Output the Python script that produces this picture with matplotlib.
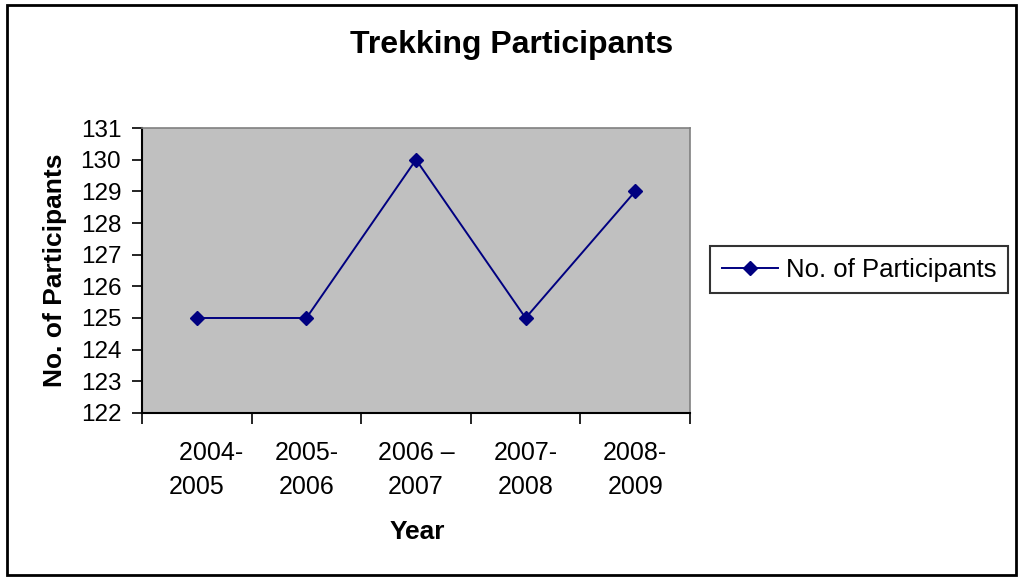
import matplotlib
matplotlib.use("Agg")
import matplotlib.pyplot as plt
from matplotlib.patches import Rectangle

years = ["    2004-\n2005", "2005-\n2006", "2006 \u2013\n2007", "2007-\n2008", "2008-\n2009"]
participants = [125, 125, 130, 125, 129]

plt.rcParams['font.family'] = ['Liberation Sans', 'DejaVu Sans']

fig = plt.figure(figsize=(10.18, 5.78), dpi=100)
ax = fig.add_axes([0.1395, 0.2855, 0.5383, 0.493])
ax.set_facecolor('#c0c0c0')

x = list(range(len(years)))
ax.plot(x, participants, color='#000080', marker='D', markersize=7.5,
        linewidth=1.4, label='No. of Participants')

ax.set_xlim(-0.5, len(years) - 0.5)
ax.set_ylim(122, 131)
ax.set_yticks(range(122, 132))
ax.tick_params(axis='y', labelsize=17.5, length=7, width=1.2, direction='out', pad=8)

# category labels sit between the boundary ticks
ax.set_xticks([i - 0.5 for i in range(len(years) + 1)])
ax.set_xticklabels([])
ax.tick_params(axis='x', length=8, width=1.2, direction='out')
ax.set_xticks(x, minor=True)
ax.set_xticklabels(years, minor=True, fontsize=18, linespacing=1.55)
ax.tick_params(axis='x', which='minor', length=0, pad=20)

for s in ['top', 'right']:
    ax.spines[s].set_color('#808080')
    ax.spines[s].set_linewidth(1.2)
for s in ['left', 'bottom']:
    ax.spines[s].set_color('black')
    ax.spines[s].set_linewidth(1.5)

ax.set_xlabel('Year', fontsize=19, fontweight='bold')
ax.xaxis.set_label_coords(0.502, -0.375)
ax.set_ylabel('No. of Participants', fontsize=19, fontweight='bold')
ax.yaxis.set_label_coords(-0.137, 0.502)
fig.text(0.5025, 0.922, 'Trekking Participants', fontsize=23, fontweight='bold',
         ha='center', va='center')

leg = ax.legend(loc='center left', bbox_to_anchor=(1.0365, 0.502), fontsize=18.5,
                frameon=True, fancybox=False, edgecolor='black', handlelength=2.2,
                borderpad=0.45, handletextpad=0.3, borderaxespad=0)
leg.get_frame().set_linewidth(1.5)

fig.patches.append(Rectangle((0.007, 0.005), 0.991, 0.986, transform=fig.transFigure,
                             fill=False, edgecolor='black', linewidth=2))

fig.savefig('out.png', dpi=100)
